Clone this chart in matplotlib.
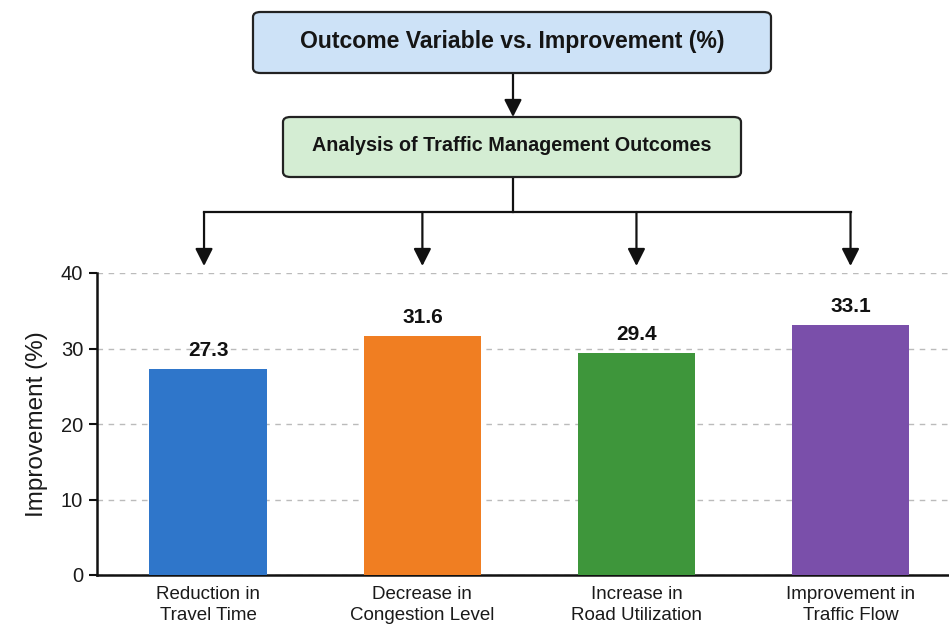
import matplotlib
matplotlib.use("Agg")
import matplotlib.pyplot as plt
from matplotlib.patches import FancyBboxPatch, FancyArrowPatch
from matplotlib.lines import Line2D
import matplotlib.transforms as mtransforms

plt.rcParams['font.family'] = ['Liberation Sans', 'DejaVu Sans']

categories = ["Reduction in\nTravel Time", "Decrease in\nCongestion Level",
              "Increase in\nRoad Utilization", "Improvement in\nTraffic Flow"]
values = [27.3, 31.6, 29.4, 33.1]
colors = ["#2F76CA", "#F07E22", "#3E963B", "#7A4FAA"]
title_text = "Outcome Variable vs. Improvement (%)"
sub_text = "Analysis of Traffic Management Outcomes"
yticks = [0, 10, 20, 30, 40]

W, H = 949, 628
fig = plt.figure(figsize=(W / 100, H / 100), dpi=100)
fig.patch.set_facecolor("white")

def fx(px):
    return px / W

def fy(py):
    return 1 - py / H

ax = fig.add_axes([fx(97), fy(575), fx(949) - fx(97), fy(273) - fy(575)])
x = list(range(len(values)))
ax.bar(x, values, width=0.55, color=colors, zorder=3)
for xi, v in zip(x, values):
    ax.text(xi, v + 1.2, f"{v}", ha="center", va="bottom", fontsize=15,
            fontweight="bold", color="#111111", zorder=4)
ax.set_xlim(-0.52, 3.46)
ax.set_ylim(0, 40)
ax.set_yticks(yticks)
ax.set_yticklabels([str(t) for t in yticks], fontsize=14.5, color="#1a1a1a")
ax.set_xticks(x)
ax.set_xticklabels(categories, fontsize=13.5, color="#1a1a1a", linespacing=1.3)
ax.tick_params(axis="x", length=0, pad=8)
ax.tick_params(axis="y", length=6, width=1.5, color="#111111", pad=4)
ax.set_ylabel("Improvement (%)", fontsize=17.5, color="#1a1a1a", labelpad=9)
ax.grid(axis="y", linestyle=(0, (4, 4)), color="#BBBBBB", linewidth=1, zorder=0)
ax.set_axisbelow(True)
for s in ["top", "right"]:
    ax.spines[s].set_visible(False)
for s in ["left", "bottom"]:
    ax.spines[s].set_linewidth(1.8)
    ax.spines[s].set_color("#111111")

# Flowchart boxes
def box(x0, y0, x1, y1, fc, text, fs):
    p = FancyBboxPatch((fx(x0), fy(y1)), fx(x1) - fx(x0), fy(y0) - fy(y1),
                       boxstyle="round,pad=0,rounding_size=0.008",
                       transform=fig.transFigure, facecolor=fc,
                       edgecolor="#222222", linewidth=1.6, zorder=5)
    fig.patches.append(p)
    fig.text(fx((x0 + x1) / 2), fy((y0 + y1) / 2) + 0.002, text, ha="center", va="center",
             fontsize=fs, fontweight="bold", color="#151515", zorder=6)

box(253, 12, 771, 73, "#CDE2F7", title_text, 16.6)
box(283, 117, 741, 177, "#D4EDD3", sub_text, 14.2)

arrow_kw = dict(arrowstyle="-|>,head_length=0.75,head_width=0.38", color="#111111",
                linewidth=1.6, shrinkA=0, shrinkB=0, mutation_scale=14)
fig.add_artist(FancyArrowPatch((fx(513), fy(73)), (fx(513), fy(117)),
                               transform=fig.transFigure, **arrow_kw))
fig.add_artist(Line2D([fx(513), fx(513)], [fy(177), fy(212)],
                      transform=fig.transFigure, color="#111111", lw=1.6))
blend = mtransforms.blended_transform_factory(ax.transData, fig.transFigure)
arrow_x = [xi - 0.02 if xi == 0 else xi for xi in x]
fig.add_artist(Line2D([arrow_x[0], arrow_x[-1]], [fy(212), fy(212)],
                      transform=blend, color="#111111", lw=1.6))
for xa in arrow_x:
    fig.add_artist(FancyArrowPatch((xa, fy(212)), (xa, fy(266)),
                                   transform=blend, **arrow_kw))

fig.savefig("out.png", dpi=100, facecolor="white")
